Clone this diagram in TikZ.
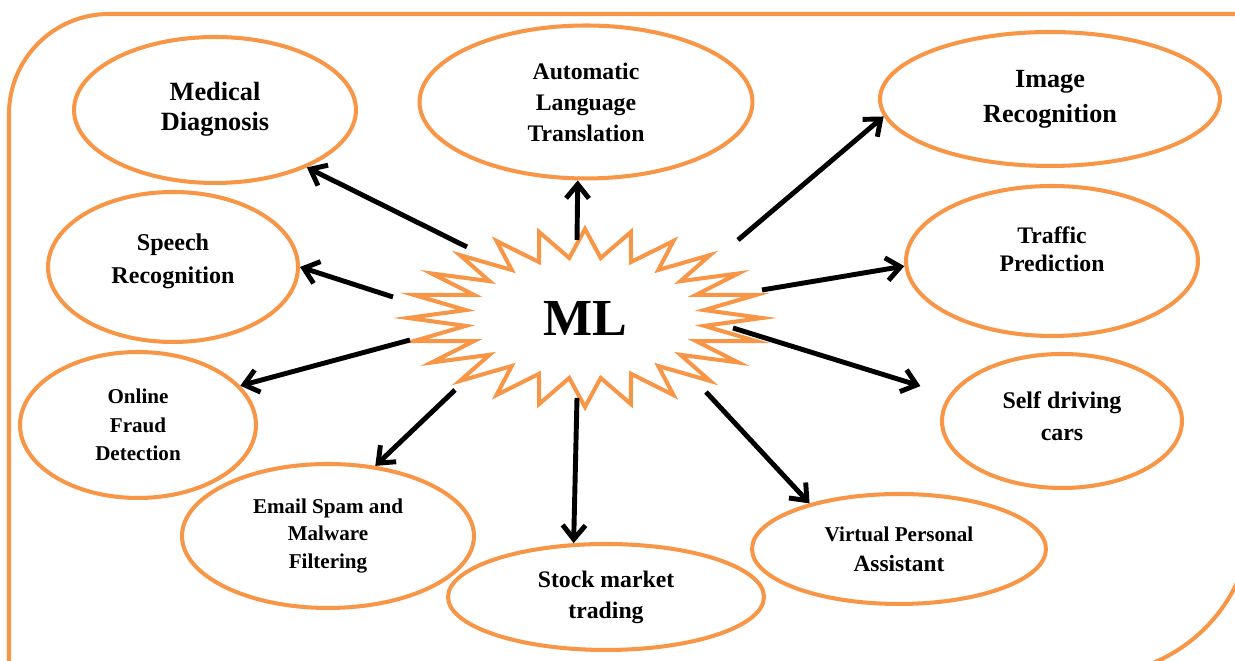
\documentclass[tikz,border=0pt]{standalone}
\usepackage{fontspec}
\setmainfont{Liberation Serif}
\usetikzlibrary{shapes.geometric,arrows.meta,calc}
\definecolor{mlorange}{HTML}{F79646}
\newcommand{\appfont}[2]{\bfseries\fontsize{#1}{#2}\selectfont}

\begin{document}
\begin{tikzpicture}[x=0.02cm,y=0.02cm,
  app/.style={ellipse,draw=mlorange,fill=white,line width=2.3pt,inner sep=0pt,align=center},
  arr/.style={-{Straight Barb[length=8pt,width=13pt]},line width=2.8pt},
  frame/.style={draw=mlorange,line width=2.3pt}]
\useasboundingbox (0,0) rectangle (1235,661);
\clip (0,0) rectangle (1235,661);

% frame with two rounded corners
\draw[frame] (1260,647) -- (109,647) arc[start angle=90,end angle=180,radius=100] -- (9,-30);
\draw[frame] (1252,700) -- (1252,146) arc[start angle=0,end angle=-90,radius=160] -- (-30,-14);

% applications
\node[app,minimum width=5.64cm,minimum height=2.92cm,font=\appfont{15}{17},text depth=4.5pt] (med) at (215,551) {Medical\\Diagnosis};
\node[app,minimum width=6.66cm,minimum height=3.06cm,font=\appfont{13.5}{17.6}] (trans) at (586,559) {Automatic\\Language\\Translation};
\node[app,minimum width=6.8cm,minimum height=2.68cm,font=\appfont{14.9}{19.8}] (image) at (1050,562) {Image\\Recognition};
\node[app,minimum width=5.0cm,minimum height=3.0cm,font=\appfont{13.7}{18.7},text depth=9.8pt] (speech) at (173,394) {Speech\\Recognition};
\node[app,minimum width=5.84cm,minimum height=3.0cm,font=\appfont{13.5}{15.9},text depth=13.6pt] (traffic) at (1052,400) {Traffic\\Prediction};
\node[app,minimum width=4.72cm,minimum height=2.92cm,font=\appfont{12}{16.2}] (online) at (138,236) {Online\\Fraud\\Detection};
\node[app,minimum width=4.8cm,minimum height=2.68cm,font=\appfont{13.6}{18},text depth=5.9pt] (self) at (1062,240) {Self driving\\cars};
\node[app,minimum width=5.84cm,minimum height=2.88cm,font=\appfont{12}{15.6}] (email) at (328,125) {Email Spam and\\Malware\\Filtering};
\node[app,minimum width=5.88cm,minimum height=2.2cm,font=\appfont{12}{17}] (vpa) at (899,112) {Virtual Personal\\{\fontsize{13.3}{17}\selectfont Assistant}};
\node[app,minimum width=6.32cm,minimum height=2.12cm,font=\appfont{13.5}{17.6}] (stock) at (606,64) {Stock market\\trading};

% 24 point star round ML
\coordinate (mlc) at (585,343);
\draw[mlorange,line width=2.3pt,fill=white,shift={(mlc)}] plot[variable=\k,samples=49,domain=0:48]
  ({177*(1-0.32*mod(round(\k),2))*cos(7.5*\k)},{89*(1-0.32*mod(round(\k),2))*sin(7.5*\k)}) -- cycle;
\node[font=\appfont{29.6}{32}] (ml) at (mlc) {ML};

% arrows out of the star
\draw[arr] ($(ml)+(-118,71)$) -- (med.-32);
\draw[arr] ($(ml)+(-8,78)$) -- (trans.-96);
\draw[arr] ($(ml)+(153,78)$) -- (image.186);
\draw[arr] ($(ml)+(-192,21)$) -- (speech.east);
\draw[arr] ($(ml)+(177,28)$) -- (traffic.182);
\draw[arr] ($(ml)+(-175,-22)$) -- (online.21);
\draw[arr,shorten >=0.6cm] ($(ml)+(148,-10)$) -- (self.167);
\draw[arr] ($(ml)+(-130,-72)$) -- (email.56);
\draw[arr] ($(ml)+(-8,-80)$) -- (stock.121);
\draw[arr] ($(ml)+(121,-74)$) -- (vpa.153);

\end{tikzpicture}
\end{document}
